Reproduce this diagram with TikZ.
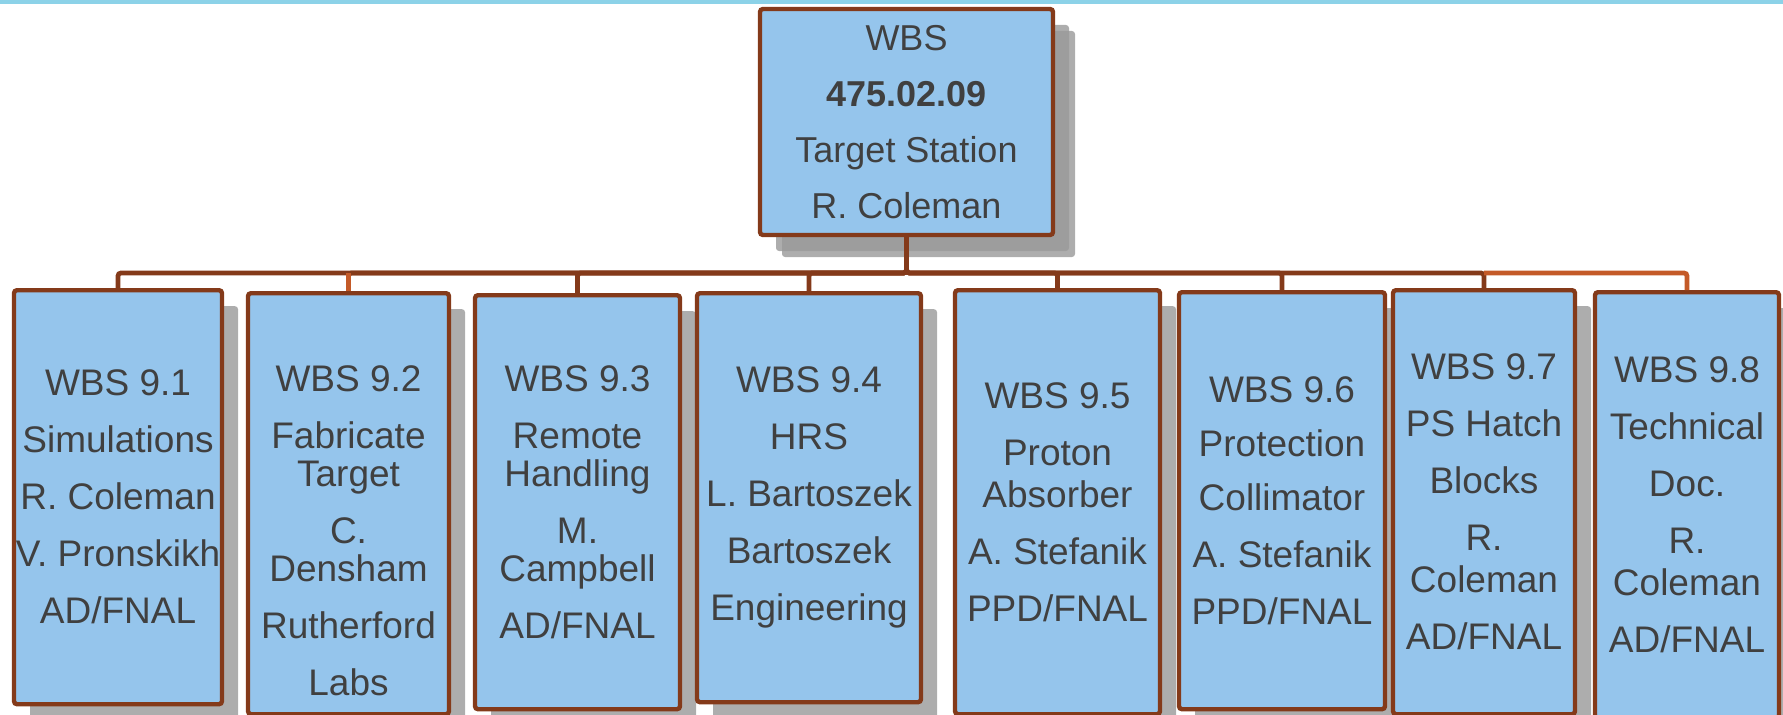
\documentclass[tikz,border=0pt]{standalone}
\usepackage{fontspec}
\setmainfont{Liberation Sans}
\usepackage{tikz}
\usetikzlibrary{shadows}

\definecolor{boxblue}{RGB}{149,197,236}
\definecolor{boxbrown}{RGB}{132,58,26}
\definecolor{linkorange}{RGB}{196,90,40}
\definecolor{textgray}{RGB}{64,64,64}
\definecolor{topcyan}{RGB}{140,210,232}

\begin{document}
\begin{tikzpicture}[
    x=0.5pt, y=0.5pt,
    wbsnode/.style={draw=boxbrown, fill=boxblue, line width=2.2pt, rounded corners=1.5pt,
        align=center, inner sep=0pt, text=textgray, font=\fontsize{18.5}{19}\selectfont,
        drop shadow={shadow xshift=8pt, shadow yshift=-8pt, fill=black!40, opacity=0.8}},
    topnode/.style={wbsnode, font=\fontsize{18}{19}\selectfont,
        drop shadow={shadow xshift=11pt, shadow yshift=-11pt, fill=black!40, opacity=0.8}},
    link/.style={draw=boxbrown, line width=2.4pt, rounded corners=1.5pt},
    hilink/.style={link, draw=linkorange}
]
\useasboundingbox (0,0) rectangle (1783,714);
\clip (0,0) rectangle (1783,714);
\fill[topcyan] (0,710) rectangle (1783,714);

% top level
\node[topnode, minimum width=146.5pt, minimum height=113pt] (W) at (906.5,592)
    {WBS\\[9pt]\textbf{475.02.09}\\[9pt]Target Station\\[9pt]R. Coleman};

% second level
\node[wbsnode, anchor=north, minimum width=104pt, minimum height=207pt] (W1) at (118,426)
    {WBS 9.1\\[9.5pt]Simulations\\[9.5pt]R. Coleman\\[9.5pt]V. Pronskikh\\[9.5pt]AD/FNAL};
\node[wbsnode, anchor=north, minimum width=100.5pt, minimum height=210.5pt] (W2) at (348.5,423)
    {\rule{0pt}{40pt}WBS 9.2\\[9.5pt]Fabricate\\Target\\[9.5pt]C.\\Densham\\[9.5pt]Rutherford\\[9.5pt]Labs};
\node[wbsnode, anchor=north, minimum width=102.5pt, minimum height=207pt] (W3) at (577.5,421)
    {WBS 9.3\\[9.5pt]Remote\\Handling\\[9.5pt]M.\\Campbell\\[9.5pt]AD/FNAL};
\node[wbsnode, anchor=north, minimum width=112pt, minimum height=204.5pt] (W4) at (809,423)
    {WBS 9.4\\[9.5pt]HRS\\[9.5pt]L. Bartoszek\\[9.5pt]Bartoszek\\[9.5pt]Engineering};
\node[wbsnode, anchor=north, minimum width=102.5pt, minimum height=212pt] (W5) at (1057.5,426)
    {WBS 9.5\\[9.5pt]Proton\\[2pt]Absorber\\[9.5pt]A. Stefanik\\[9.5pt]PPD/FNAL};
\node[wbsnode, anchor=north, minimum width=103pt, minimum height=208.5pt] (W6) at (1282,424)
    {WBS 9.6\\[8pt]Protection\\[8pt]Collimator\\[9.5pt]A. Stefanik\\[9.5pt]PPD/FNAL};
\node[wbsnode, anchor=north, minimum width=91pt, minimum height=212pt] (W7) at (1484,426)
    {WBS 9.7\\[9.5pt]PS Hatch\\[9.5pt]Blocks\\[9.5pt]R.\\[2pt]Coleman\\[9.5pt]AD/FNAL};
\node[wbsnode, anchor=north, minimum width=92pt, minimum height=213pt] (W8) at (1687,424)
    {WBS 9.8\\[9.5pt]Technical\\[9.5pt]Doc.\\[9.5pt]R.\\[2pt]Coleman\\[9.5pt]AD/FNAL};

% connectors
\coordinate (bus) at (0,441);
\foreach \n in {1,...,7}
    \draw[link] (W.south) -- (W.south |- bus) -| (W\n.north);
\draw[hilink] (W7.north |- bus) -| (W8.north);
\draw[hilink] (W2.north) -- (W2.north |- bus);
\end{tikzpicture}
\end{document}
